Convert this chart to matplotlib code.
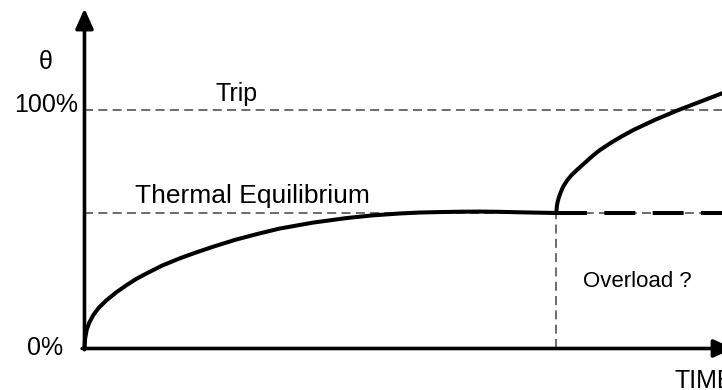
#!/usr/bin/env python3
"""Thermal image curve: heating up to equilibrium, then overload towards trip."""

import matplotlib
matplotlib.use('Agg')
import matplotlib.pyplot as plt

plt.rcParams['font.family'] = ['Liberation Sans', 'DejaVu Sans']
plt.rcParams['lines.scale_dashes'] = False

# 读自原图的数据 (time in arbitrary units, theta in %)
eq_time = [0.0, 0.012, 0.047, 0.1, 0.186, 0.3, 0.47, 0.67, 0.894, 1.1,
           1.318, 1.65, 2.02, 2.37, 2.73, 3.2, 3.72, 4.14, 4.85, 5.56,
           6.1, 6.68, 7.1, 7.53, 8.0, 8.38, 8.8, 9.22, 9.6, 10.0]
eq_theta = [0.0, 4.0, 7.8, 10.8, 14.0, 17.0, 20.3, 23.5, 26.6, 29.2,
            31.5, 34.8, 37.8, 40.3, 42.7, 45.6, 48.3, 50.3, 52.8, 54.7,
            55.8, 56.6, 57.0, 57.2, 57.35, 57.4, 57.3, 57.1, 56.95, 56.8]

ovl_time = [10.0, 10.003, 10.01, 10.025, 10.05, 10.09, 10.14, 10.22, 10.31,
            10.43, 10.6, 10.75, 10.92, 11.15, 11.38, 11.63, 12.08, 12.55,
            13.05, 13.55]
ovl_theta = [56.8, 58.5, 60.0, 61.5, 63.3, 65.5, 67.8, 70.3, 72.5,
             74.8, 77.8, 80.5, 83.2, 86.2, 88.9, 91.6, 95.8, 99.7,
             103.5, 107.3]

TRIP_LEVEL = 100
EQUIL_LEVEL = 56.8
OVERLOAD_T = 10.0
T_END = 13.7

LINE_GREY = '#444444'

fig = plt.figure(figsize=(7.22, 3.90), dpi=100)
ax = fig.add_axes([0, 0, 1, 1])
ax.set_xlim(-1.790, 13.507)
ax.set_ylim(-17.4, 146.1)
ax.axis('off')

# reference levels
thin = dict(color=LINE_GREY, lw=1.1, linestyle=(0, (6.5, 3.8)))
ax.plot([0, T_END], [TRIP_LEVEL, TRIP_LEVEL], **thin)
ax.plot([0, T_END], [EQUIL_LEVEL, EQUIL_LEVEL], **thin)
ax.plot([OVERLOAD_T, OVERLOAD_T], [0, EQUIL_LEVEL], **thin)

# curves
ax.plot(eq_time, eq_theta, color='black', lw=2.9, solid_capstyle='round',
        solid_joinstyle='round')
ax.plot(ovl_time, ovl_theta, color='black', lw=2.9, solid_capstyle='round',
        solid_joinstyle='round')
ax.plot([OVERLOAD_T, T_END], [EQUIL_LEVEL, EQUIL_LEVEL], color='black', lw=2.9,
        linestyle=(0, (22.3, 12.5)))

# axes with arrows
arrow = dict(arrowstyle='-|>,head_length=0.6,head_width=0.27', color='black',
             lw=2.6, mutation_scale=20, shrinkA=0, shrinkB=0)
ax.annotate('', xy=(0, 142.5), xytext=(0, -0.5), arrowprops=arrow)
ax.annotate('', xy=(13.75, 0), xytext=(-0.05, 0), arrowprops=arrow,
            annotation_clip=False)

# labels
ax.text(-0.826, 120.1, 'θ', fontsize=18, ha='center', va='center')
ax.text(-0.138, 99.3, '100%', fontsize=18, ha='right', va='baseline')
ax.text(-0.455, -2.7, '0%', fontsize=18, ha='right', va='baseline')
ax.text(3.22, 103.8, 'Trip', fontsize=18, ha='center', va='baseline')
ax.text(1.07, 60.9, 'Thermal Equilibrium', fontsize=19, ha='left',
        va='baseline')
ax.text(10.56, 25.8, 'Overload ?', fontsize=16, ha='left', va='baseline')
ax.text(12.51, -16.6, 'TIME', fontsize=18, ha='left', va='baseline')

plt.savefig('out.png', dpi=100)
plt.close()
